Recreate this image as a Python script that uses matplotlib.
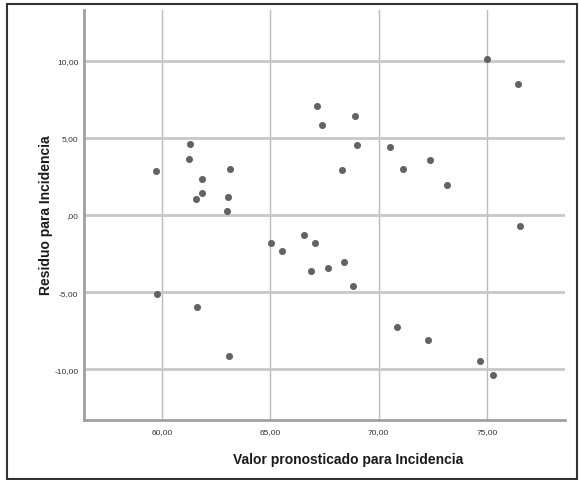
import matplotlib
matplotlib.use('Agg')
import matplotlib.pyplot as plt
from matplotlib.patches import Rectangle

# valores (pronosticado vs residuo)
pronosticado = [59.72, 59.75, 61.29, 61.25, 61.86, 61.83, 61.57, 61.60, 63.12, 63.03,
                63.00, 63.07, 65.05, 65.54, 66.55, 67.06, 66.89, 67.65, 67.14, 67.38,
                68.90, 69.00, 68.32, 68.38, 68.81, 70.51, 71.10, 72.35, 73.17, 70.83,
                72.26, 74.68, 75.26, 75.00, 76.43, 76.52]
residuo = [2.88, -5.13, 4.63, 3.66, 2.34, 1.41, 1.04, -6.00, 3.01, 1.19,
           0.24, -9.16, -1.84, -2.34, -1.32, -1.84, -3.64, -3.44, 7.08, 5.84,
           6.43, 4.52, 2.90, -3.07, -4.59, 4.42, 3.00, 3.55, 1.97, -7.29,
           -8.14, -9.48, -10.35, 10.11, 8.49, -0.69]

xticks = [60, 65, 70, 75]
xtick_labels = ['60,00', '65,00', '70,00', '75,00']
yticks = [-10, -5, 0, 5, 10]
ytick_labels = ['-10,00', '-5,00', ',00', '5,00', '10,00']

plt.rcParams['font.family'] = ['Liberation Sans', 'DejaVu Sans']

fig = plt.figure(figsize=(5.79, 4.81), dpi=100)
ax = fig.add_axes([84 / 579, 60 / 481, 481 / 579, 410 / 481])

ax.scatter(pronosticado, residuo, s=20, color='#636363', edgecolors='#555555',
           linewidths=0.5, zorder=3)

ax.set_xlim(56.4, 78.6)
ax.set_ylim(-13.3, 13.3)
ax.set_xticks(xticks)
ax.set_xticklabels(xtick_labels, fontsize=6, color='#333333')
ax.set_yticks(yticks)
ax.set_yticklabels(ytick_labels, fontsize=6, color='#333333')
ax.tick_params(axis='x', length=0, pad=6)
ax.tick_params(axis='y', length=0, pad=4)

# rejilla: horizontales mas gruesas
ax.grid(axis='y', color='#c8c8c8', linewidth=2.0, zorder=0)
ax.grid(axis='x', color='#bbbbbb', linewidth=1.0, zorder=0)

for side in ['top', 'right']:
    ax.spines[side].set_visible(False)
for side in ['left', 'bottom']:
    ax.spines[side].set_color('#a0a0a0')
    ax.spines[side].set_linewidth(2.0)

# etiquetas de ejes colocadas a mano (como en la figura original)
fig.text(348 / 579, 1 - 460 / 481, 'Valor pronosticado para Incidencia', fontsize=10,
         fontweight='bold', ha='center', va='center', color='#1a1a1a')
fig.text(46 / 579, 1 - 215 / 481, 'Residuo para Incidencia', fontsize=10,
         fontweight='bold', ha='center', va='center', rotation=90, color='#1a1a1a')

# marco exterior
fig.patches.append(Rectangle((7 / 579, 1 / 481), 570 / 579, 475 / 481,
                             transform=fig.transFigure, fill=False,
                             edgecolor='#333333', linewidth=1.5))

fig.savefig('out.png', dpi=100)
